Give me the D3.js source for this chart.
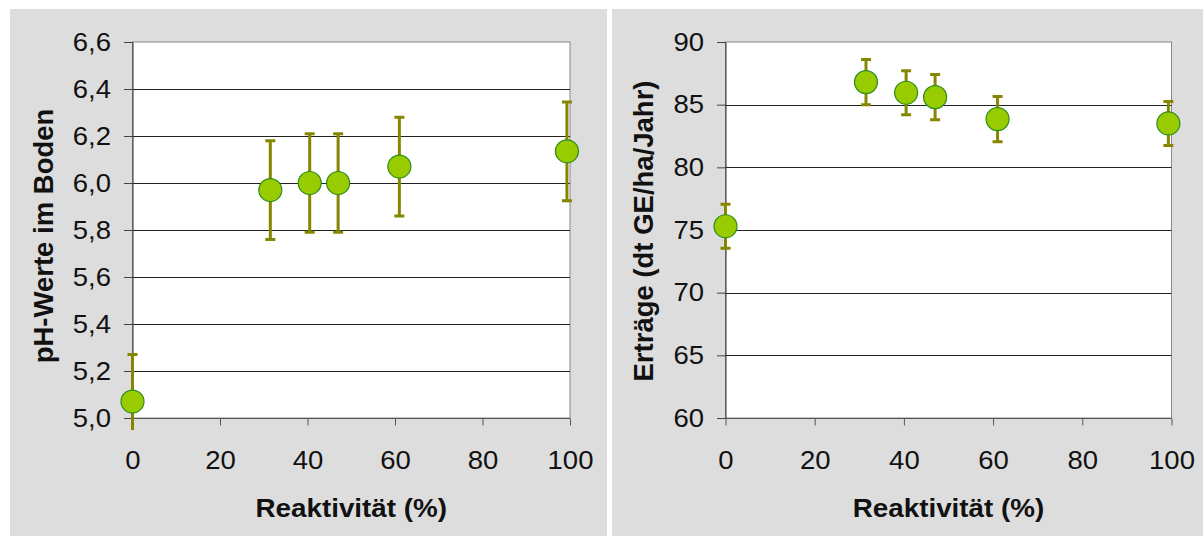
<!DOCTYPE html>
<html>
<head>
<meta charset="utf-8">
<script src="https://cdn.jsdelivr.net/npm/d3@7"></script>
<style>
  body { margin: 0; background: #fff; }
  svg { display: block; font-family: "Liberation Sans", Arial, sans-serif; }
</style>
</head>
<body>
<div id="chart"></div>
<script>
const reaktivitaet = [0, 31.5, 40.5, 47, 61, 99.3];
const phWerte = [5.07, 5.97, 6.0, 6.0, 6.07, 6.135];
const phFehler = [0.2, 0.21, 0.21, 0.21, 0.21, 0.21];
const ertraege = [75.3, 86.8, 85.95, 85.6, 83.85, 83.5];
const ertragFehler = [1.75, 1.8, 1.75, 1.8, 1.8, 1.75];
const xTicks = [0, 20, 40, 60, 80, 100];
const phTicks = [5.0, 5.2, 5.4, 5.6, 5.8, 6.0, 6.2, 6.4, 6.6];
const ertragTicks = [60, 65, 70, 75, 80, 85, 90];

const width = 1203, height = 536;
const stretch = 1.1; // reference text is a bit wider than plain Arial
const svg = d3.select("#chart").append("svg")
  .attr("width", width).attr("height", height);

const fmtKomma = d => d.toFixed(1).replace(".", ",");

function panel(opt) {
  const g = svg.append("g");
  g.append("rect").attr("x", opt.px).attr("y", 9)
    .attr("width", opt.pw).attr("height", 527).attr("fill", "#dddddd");

  const x = d3.scaleLinear().domain([0, 100]).range([opt.x0, opt.x1]);
  const y = d3.scaleLinear().domain(opt.yDomain).range([418, 42]);

  // error bars may run a little below the axis, then get cut off
  svg.append("clipPath").attr("id", opt.id)
    .append("rect").attr("x", opt.x0 - 20).attr("y", 20)
    .attr("width", opt.x1 - opt.x0 + 40).attr("height", 410);

  g.append("rect").attr("x", opt.x0).attr("y", 42)
    .attr("width", opt.x1 - opt.x0).attr("height", 376)
    .attr("fill", "#fff").attr("stroke", "#888").attr("stroke-width", 1);

  // gridlines
  g.selectAll(".grid").data(opt.ticks.slice(1, -1)).join("line")
    .attr("x1", opt.x0).attr("x2", opt.x1)
    .attr("y1", d => Math.round(y(d)) + 0.5).attr("y2", d => Math.round(y(d)) + 0.5)
    .attr("stroke", "#222").attr("stroke-width", 1);

  // y axis
  const yAxis = d3.axisLeft(y).tickValues(opt.ticks).tickFormat(opt.fmt)
    .tickSize(9).tickPadding(13);
  const ya = g.append("g").attr("transform", `translate(${opt.x0 + 0.5},0)`).call(yAxis);
  ya.select(".domain").attr("stroke", "#333").attr("d", `M-9,42.5H0V418.5H-9`);
  ya.selectAll(".tick line").attr("stroke", "#444");
  ya.selectAll("text").attr("font-size", 25).attr("fill", "#111")
    .attr("font-family", "'Liberation Sans', Arial, sans-serif")
    .attr("x", -22 / stretch).attr("transform", `scale(${stretch},1)`);

  // x axis
  const xAxis = d3.axisBottom(x).tickValues(xTicks).tickSize(7).tickPadding(26);
  const xa = g.append("g").attr("transform", "translate(0,418.5)").call(xAxis);
  xa.select(".domain").attr("stroke", "#555").attr("d", `M${opt.x0},0H${opt.x1}`);
  xa.selectAll(".tick line").attr("stroke", "#555");
  xa.selectAll("text").attr("font-size", 25).attr("fill", "#111")
    .attr("font-family", "'Liberation Sans', Arial, sans-serif")
    .attr("transform", `scale(${stretch},1)`);

  // titles
  g.append("text")
    .attr("transform", `translate(${(opt.x0 + opt.x1) / 2},517) scale(1.07,1)`)
    .attr("text-anchor", "middle").attr("font-size", 26).attr("font-weight", "bold")
    .attr("fill", "#111")
    .text("Reaktivität (%)");
  g.append("text")
    .attr("transform", `translate(${opt.titleX},${opt.titleY}) rotate(-90)`)
    .attr("text-anchor", "middle").attr("font-size", 27.5).attr("font-weight", "bold")
    .attr("fill", "#111")
    .text(opt.yTitle);

  // error bars
  const pts = reaktivitaet.map((r, i) => ({ r, v: opt.values[i], e: opt.errors[i] }));
  const eb = g.append("g").attr("stroke", "#868600").attr("clip-path", `url(#${opt.id})`);
  eb.selectAll(".bar").data(pts).join("line")
    .attr("x1", d => x(d.r)).attr("x2", d => x(d.r))
    .attr("y1", d => y(d.v - d.e)).attr("y2", d => y(d.v + d.e))
    .attr("stroke-width", 3);
  eb.selectAll(".capTop").data(pts).join("line")
    .attr("x1", d => x(d.r) - 5).attr("x2", d => x(d.r) + 5)
    .attr("y1", d => y(d.v + d.e)).attr("y2", d => y(d.v + d.e))
    .attr("stroke-width", 3);
  eb.selectAll(".capBot").data(pts).join("line")
    .attr("x1", d => x(d.r) - 5).attr("x2", d => x(d.r) + 5)
    .attr("y1", d => y(d.v - d.e)).attr("y2", d => y(d.v - d.e))
    .attr("stroke-width", 3);

  // markers
  g.selectAll(".pt").data(pts).join("circle")
    .attr("cx", d => x(d.r)).attr("cy", d => y(d.v)).attr("r", 11.5)
    .attr("fill", "#99cc00").attr("stroke", "#2e8b1e").attr("stroke-width", 1.2);
}

panel({
  id: "clipPh", px: 10, pw: 597, x0: 132.5, x1: 570,
  yDomain: [5.0, 6.6], ticks: phTicks, fmt: fmtKomma,
  values: phWerte, errors: phFehler,
  yTitle: "pH-Werte im Boden", titleX: 53, titleY: 236
});

panel({
  id: "clipErtrag", px: 612, pw: 591, x0: 725.5, x1: 1171.5,
  yDomain: [60, 90], ticks: ertragTicks, fmt: d3.format("d"),
  values: ertraege, errors: ertragFehler,
  yTitle: "Erträge (dt GE/ha/Jahr)", titleX: 653, titleY: 231
});
</script>
</body>
</html>
